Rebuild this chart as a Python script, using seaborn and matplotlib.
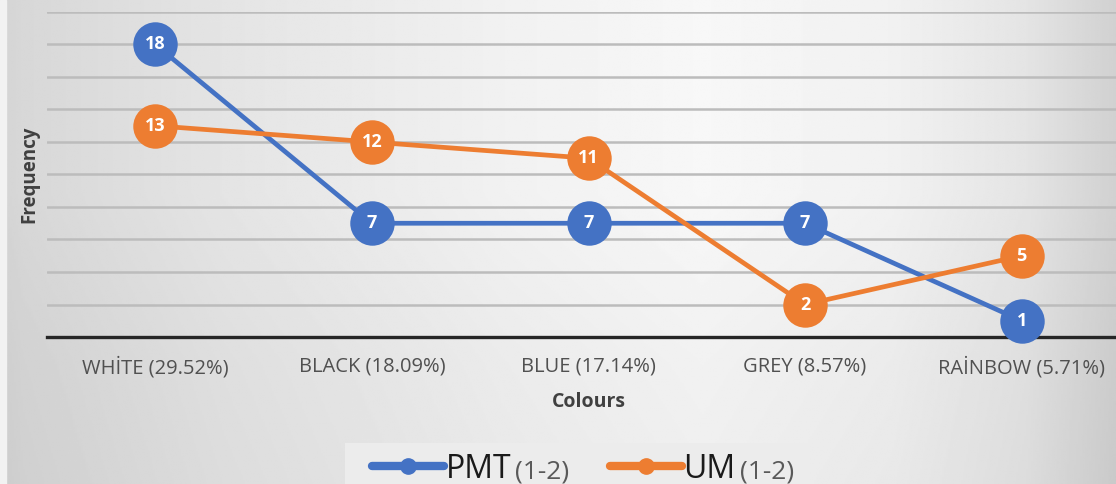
import numpy as np
import pandas as pd
import matplotlib
matplotlib.use("Agg")
import matplotlib.pyplot as plt
from matplotlib.lines import Line2D
from matplotlib.patches import Rectangle
import seaborn as sns

# Data
categories = ["WHİTE (29.52%)", "BLACK (18.09%)", "BLUE (17.14%)", "GREY (8.57%)", "RAİNBOW (5.71%)"]
pmt_values = [18, 7, 7, 7, 1]
um_values = [13, 12, 11, 2, 5]
series_names = ["PMT", "UM"]
series_suffix = "(1-2)"

BLUE = "#4472C4"
ORANGE = "#ED7D31"

sns.set_theme(style="white")
plt.rcParams["font.family"] = ["Open Sans", "DejaVu Sans"]

df = pd.DataFrame({
    "pos": list(range(len(categories))) * 2,
    "value": pmt_values + um_values,
    "series": [series_names[0]] * len(categories) + [series_names[1]] * len(categories),
})

W, H = 1116, 484
fig = plt.figure(figsize=(W / 100, H / 100), dpi=100)

# Soft grey gradient background
bg = fig.add_axes([0, 0, 1, 1], zorder=-10)
xs = np.linspace(0, 1, 600)
xp = [0.0, 0.02, 0.2, 0.45, 0.63, 0.8, 0.92, 1.0]
fp = [0.83, 0.845, 0.895, 0.945, 0.97, 0.945, 0.895, 0.82]
prof = np.interp(xs, xp, fp)
ys = np.linspace(0, 1, 300)
vprof = np.interp(ys, [0, 0.25, 0.6, 1.0], [0.965, 0.975, 1.0, 1.0])
img = np.clip(np.outer(vprof, prof), 0, 1)
bg.imshow(img, cmap="gray", vmin=0, vmax=1, aspect="auto", extent=[0, 1, 0, 1], origin="lower")
bg.axvspan(0, 0.005, color="#f2f2f2")
bg.set_xlim(0, 1)
bg.set_ylim(0, 1)
bg.axis("off")

# Legend background band
fig.patches.append(Rectangle((345 / W, 0), (810 - 345) / W, (H - 443) / H,
                             transform=fig.transFigure, facecolor="#ececec",
                             edgecolor="none", zorder=-5))

ax = fig.add_axes([47 / W, (H - 337) / H, 1083 / W, 325 / H])
ax.set_facecolor("none")

sns.lineplot(
    data=df, x="pos", y="value", hue="series",
    palette=[BLUE, ORANGE], marker="o", markersize=32,
    markeredgewidth=0,
    linewidth=3.4, ax=ax, legend=False, clip_on=False, zorder=3,
)

for vals in (pmt_values, um_values):
    for i, v in enumerate(vals):
        ax.text(i, v, str(v), color="white", fontsize=13, fontweight="bold",
                ha="center", va="center", zorder=5)

ax.set_xlim(-0.5, 4.5)
ax.set_ylim(0, 20)
ax.set_yticks(np.arange(0, 21, 2))
ax.set_yticklabels([])
ax.tick_params(axis="y", length=0)
ax.yaxis.grid(True, color="#bcbcbc", linewidth=1.8)
ax.set_axisbelow(True)
ax.set_xticks(range(len(categories)))
ax.set_xticklabels(categories, fontsize=14.5, color="#505050")
ax.tick_params(axis="x", length=0, pad=14)
for s in ["top", "right", "left"]:
    ax.spines[s].set_visible(False)
ax.spines["bottom"].set_color("#262626")
ax.spines["bottom"].set_linewidth(2.4)
ax.spines["bottom"].set_zorder(2)

ax.set_xlabel("Colours", fontsize=14, fontweight="bold", color="#404040", labelpad=10)
ax.set_ylabel("Frequency", fontsize=13.5, fontweight="bold", color="#404040", labelpad=2)

# Legend
leg_handles = [Line2D([], [], color=c, lw=6, marker="o", markersize=11) for c in (BLUE, ORANGE)]
leg = fig.legend(leg_handles, series_names, loc="center left",
                 bbox_to_anchor=(372 / W, (H - 469) / H), ncol=2, frameon=False,
                 fontsize=23, handlelength=2.25, handletextpad=0.05,
                 columnspacing=3.1, borderpad=0, borderaxespad=0)
for t in leg.get_texts():
    t.set_color("#1a1a1a")

fig.canvas.draw()
renderer = fig.canvas.get_renderer()
inv = fig.transFigure.inverted()
for t in leg.get_texts():
    bb = t.get_window_extent(renderer)
    x0, y0 = inv.transform((bb.x1 + 4, (bb.y0 + bb.y1) / 2))
    fig.text(x0, y0 - 0.006, series_suffix, fontsize=19, color="#595959",
             ha="left", va="center", zorder=10)

fig.savefig("out.png", dpi=100)
